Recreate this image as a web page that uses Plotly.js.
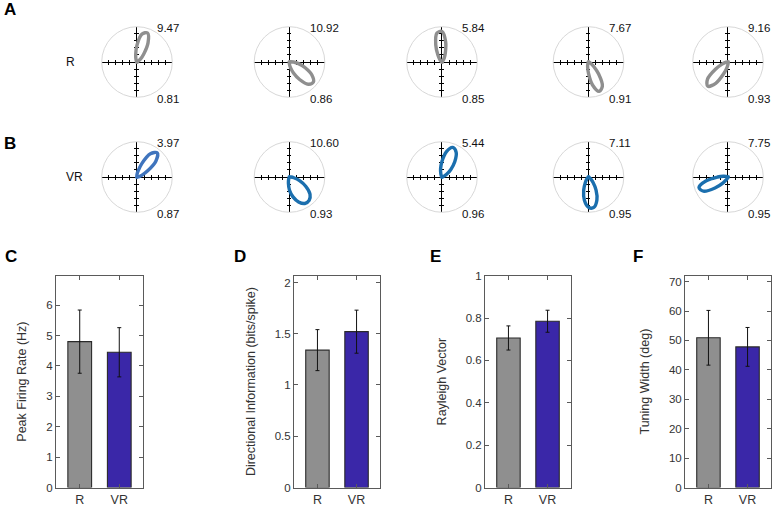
<!DOCTYPE html>
<html><head><meta charset="utf-8">
<script src="https://cdn.plot.ly/plotly-3.0.1.min.js"></script>
<style>html,body{margin:0;padding:0;background:#fff}#chart{width:774px;height:505px}</style>
</head><body><div id="chart"></div>
<script>
// ---------------- DATA ----------------
const directions = [0,10,20,30,40,50,60,70,80,90,100,110,120,130,140,150,160,170,180,190,200,210,220,230,240,250,260,270,280,290,300,310,320,330,340,350];
const rowLabels = ['R', 'VR'];
const peakR = [9.47, 10.92, 5.84, 7.67, 9.16];
const rayleighR = [0.81, 0.86, 0.85, 0.91, 0.93];
const peakVR = [3.97, 10.60, 5.44, 7.11, 7.75];
const rayleighVR = [0.87, 0.93, 0.96, 0.95, 0.95];
// normalised firing rate per direction (peak = 1)
const tuningR1 = [0.01,0.01,0.02,0.03,0.15,0.34,0.70,0.98,0.90,0.54,0.24,0.10,
                  0.04,0.02,0.01,0.01,0.01,0.01,0.01,0.01,0.01,0.01,0.01,0.01,
                  0.01,0.01,0.01,0.01,0.01,0.01,0.01,0.01,0.01,0.01,0.01,0.01];
const tuningR2 = [0.13,0.05,0.02,0.01,0.01,0.01,0.01,0.01,0.01,0.01,0.01,0.01,
                  0.01,0.01,0.01,0.01,0.01,0.01,0.01,0.01,0.01,0.01,0.01,0.01,
                  0.01,0.01,0.03,0.08,0.18,0.37,0.64,0.92,0.99,0.82,0.53,0.29];
const tuningR3 = [0.01,0.01,0.01,0.01,0.01,0.03,0.14,0.31,0.66,0.97,0.93,0.58,
                  0.26,0.11,0.04,0.02,0.01,0.01,0.01,0.01,0.01,0.01,0.01,0.01,
                  0.01,0.01,0.01,0.01,0.01,0.01,0.01,0.01,0.01,0.01,0.01,0.01];
const tuningR4 = [0.01,0.01,0.01,0.01,0.01,0.01,0.01,0.01,0.01,0.01,0.01,0.01,
                  0.01,0.01,0.01,0.01,0.01,0.01,0.01,0.01,0.01,0.01,0.01,0.01,
                  0.02,0.06,0.16,0.36,0.74,0.99,0.88,0.50,0.21,0.09,0.03,0.01];
const tuningR5 = [0.01,0.01,0.01,0.01,0.01,0.01,0.01,0.01,0.01,0.01,0.01,0.01,
                  0.01,0.01,0.01,0.01,0.01,0.01,0.02,0.08,0.20,0.46,0.85,1.00,
                  0.78,0.39,0.17,0.07,0.03,0.01,0.01,0.01,0.01,0.01,0.01,0.01];
const tuningVR1 = [0.01,0.07,0.17,0.39,0.78,1.00,0.85,0.46,0.19,0.08,0.03,0.01,
                   0.01,0.01,0.01,0.01,0.01,0.01,0.01,0.01,0.01,0.01,0.01,0.01,
                   0.01,0.01,0.01,0.01,0.01,0.01,0.01,0.01,0.01,0.01,0.01,0.01];
const tuningVR2 = [0.05,0.02,0.01,0.01,0.01,0.01,0.01,0.01,0.01,0.01,0.01,0.01,
                   0.01,0.01,0.01,0.01,0.01,0.01,0.01,0.01,0.01,0.01,0.01,0.01,
                   0.03,0.08,0.20,0.42,0.64,0.84,0.97,0.97,0.85,0.60,0.34,0.14];
const tuningVR3 = [0.01,0.02,0.06,0.16,0.36,0.63,0.90,1.00,0.82,0.50,0.26,0.11,
                   0.04,0.02,0.01,0.01,0.01,0.01,0.01,0.01,0.01,0.01,0.01,0.01,
                   0.01,0.01,0.01,0.01,0.01,0.01,0.01,0.01,0.01,0.01,0.01,0.01];
const tuningVR4 = [0.01,0.01,0.01,0.01,0.01,0.01,0.01,0.01,0.01,0.01,0.01,0.01,
                   0.01,0.01,0.01,0.01,0.01,0.01,0.01,0.01,0.01,0.01,0.03,0.08,
                   0.20,0.45,0.75,0.96,0.98,0.78,0.48,0.22,0.09,0.03,0.01,0.01];
const tuningVR5 = [0.01,0.01,0.01,0.01,0.01,0.01,0.01,0.01,0.01,0.01,0.01,0.01,
                   0.01,0.01,0.01,0.02,0.06,0.15,0.33,0.70,0.98,0.90,0.54,0.24,
                   0.09,0.04,0.02,0.01,0.01,0.01,0.01,0.01,0.01,0.01,0.01,0.01];

const groups = ['R', 'VR'];
const peakRate = [4.80, 4.45];
const peakRateErr = [1.04, 0.81];
const dirInfo = [1.34, 1.52];
const dirInfoErr = [0.20, 0.21];
const rayleighVec = [0.706, 0.785];
const rayleighVecErr = [0.057, 0.052];
const tuningWidth = [50.9, 47.8];
const tuningWidthErr = [9.3, 6.6];

// ---------------- LAYOUT / STYLE ----------------
const W = 774, H = 505;
const px = v => v / W, py = v => 1 - v / H;
const FONT = 'Arial, "Liberation Sans", sans-serif';
const polarCx = [137, 289.5, 442, 588.5, 728];
const polarCy = [62, 177];
const RAD = 35.3;
const curveColors = [['#8f8f8f','#8f8f8f','#8f8f8f','#8f8f8f','#8f8f8f'],
                     ['#3f74bd','#1b6fae','#1b6fae','#1b6fae','#1b6fae']];
const barColors = ['#8f8f8f', '#3a27a8'];

const rows = [
  {curves:[tuningR1,tuningR2,tuningR3,tuningR4,tuningR5], peak:peakR, rv:rayleighR},
  {curves:[tuningVR1,tuningVR2,tuningVR3,tuningVR4,tuningVR5], peak:peakVR, rv:rayleighVR}
];

const data = [];
const layout = {
  width: W, height: H,
  margin: {l:0, r:0, t:0, b:0},
  showlegend: false,
  paper_bgcolor: '#ffffff',
  plot_bgcolor: 'rgba(0,0,0,0)',
  font: {family: FONT, color: '#000'},
  annotations: []
};

let axCount = 0;
function newAx() { axCount++; return axCount === 1 ? '' : String(axCount); }

// ---------- bar panels ----------
const panels = [
  {letter:'C', lx:3,   x0:56,  x1:143, vals:peakRate,    errs:peakRateErr,    range:[0,6.97], ticks:[0,1,2,3,4,5,6], tt:['0','1','2','3','4','5','6'], title:'Peak Firing Rate (Hz)'},
  {letter:'D', lx:232, x0:294, x1:380, vals:dirInfo,     errs:dirInfoErr,     range:[0,2.066], ticks:[0,0.5,1,1.5,2], tt:['0','0.5','1','1.5','2'], title:'Directional Information (bits/spike)'},
  {letter:'E', lx:428, x0:485, x1:571, vals:rayleighVec, errs:rayleighVecErr, range:[0,1], ticks:[0,0.2,0.4,0.6,0.8,1], tt:['0','0.2','0.4','0.6','0.8','1'], title:'Rayleigh Vector'},
  {letter:'F', lx:631, x0:685, x1:771, vals:tuningWidth, errs:tuningWidthErr, range:[0,72], ticks:[0,10,20,30,40,50,60,70], tt:['0','10','20','30','40','50','60','70'], title:'Tuning Width (deg)'}
];
const barTop = 275.7, barBot = 487.5;
panels.forEach(p => {
  const id = newAx();
  data.push({
    type:'bar', x: groups, y: p.vals, xaxis:'x'+id, yaxis:'y'+id, width:0.6,
    marker:{color: barColors, line:{color:'#2a2a2a', width:1.1}},
    error_y:{type:'data', array:p.errs, visible:true, color:'#111', thickness:1, width:2},
    hoverinfo:'skip'
  });
  layout['xaxis'+id] = {
    domain:[px(p.x0), px(p.x1)], anchor:'y'+id, type:'category', range:[-0.6,1.6],
    showline:true, mirror:'ticks', linecolor:'#5a5a5a', linewidth:1,
    ticks:'inside', ticklen:4, tickcolor:'#5a5a5a', tickwidth:1,
    tickfont:{size:12.5, color:'#333', family:FONT}, showgrid:false, zeroline:false, fixedrange:true
  };
  layout['yaxis'+id] = {
    domain:[py(barBot), py(barTop)], anchor:'x'+id, range:p.range,
    tickmode:'array', tickvals:p.ticks, ticktext:p.tt,
    showline:true, mirror:'ticks', linecolor:'#5a5a5a', linewidth:1,
    ticks:'inside', ticklen:4, tickcolor:'#5a5a5a', tickwidth:1,
    tickfont:{size:11.5, color:'#333', family:FONT}, showgrid:false, zeroline:false, fixedrange:true,
    title:{text:p.title, standoff:16, font:{size:12.5, color:'#333', family:FONT}}
  };
  layout.annotations.push({text:'<b>'+p.letter+'</b>', xref:'paper', yref:'paper', x:px(p.lx), y:py(256.5),
    xanchor:'left', yanchor:'middle', showarrow:false, font:{size:17, color:'#000', family:FONT}});
});

// ---------- polar panels ----------
const tickPos = [-0.8,-0.6,-0.4,-0.2,0.2,0.4,0.6,0.8];
const crossAxis = {
  showline:true, linecolor:'#000', linewidth:1, ticks:'outside', ticklen:1.8, tickwidth:1, tickcolor:'#000',
  tickmode:'array', tickvals:tickPos, showticklabels:false, showgrid:false, zeroline:false, fixedrange:true,
  minor:{tickmode:'array', tickvals:tickPos, ticks:'inside', ticklen:1.8, tickwidth:1, tickcolor:'#000', showgrid:false},
  range:[-1,1]
};
let polarCount = 0;
function holder(id) {
  // empty trace so that the cross-hair subplot is created
  data.push({type:'scatter', x:[null], y:[null], mode:'lines', xaxis:'x'+id, yaxis:'y'+id, hoverinfo:'skip'});
}
rows.forEach((row, r) => {
  const cy = polarCy[r];
  row.curves.forEach((curve, c) => {
    const cx = polarCx[c];
    // cross-hair axes: horizontal
    const ha = newAx();
    layout['xaxis'+ha] = Object.assign({}, crossAxis, {domain:[px(cx-RAD), px(cx+RAD)], anchor:'y'+ha});
    layout['yaxis'+ha] = {domain:[py(cy), py(cy-RAD)], anchor:'x'+ha, range:[0,1], visible:false, fixedrange:true};
    holder(ha);
    // vertical
    const va = newAx();
    layout['xaxis'+va] = {domain:[px(cx), px(cx+RAD)], anchor:'y'+va, range:[0,1], visible:false, fixedrange:true};
    layout['yaxis'+va] = Object.assign({}, crossAxis, {domain:[py(cy+RAD), py(cy-RAD)], anchor:'x'+va});
    holder(va);

    polarCount++;
    const pid = polarCount === 1 ? 'polar' : 'polar' + polarCount;
    layout[pid] = {
      domain:{x:[px(cx-RAD), px(cx+RAD)], y:[py(cy+RAD), py(cy-RAD)]},
      bgcolor:'rgba(0,0,0,0)',
      radialaxis:{visible:false, range:[0,1.12]},
      angularaxis:{showline:true, linecolor:'#d8d8d8', linewidth:1, showgrid:false, ticks:'', showticklabels:false}
    };
    data.push({
      type:'scatterpolar', subplot:pid,
      r: curve.concat([curve[0]]), theta: directions.concat([directions[0]]),
      mode:'lines', line:{color:curveColors[r][c], width:3.4, shape:'spline'}, hoverinfo:'skip'
    });
    layout.annotations.push({text: row.peak[c].toFixed(2), xref:'paper', yref:'paper',
      x:px(cx+18), y:py(cy-34), xanchor:'left', yanchor:'middle', showarrow:false,
      font:{size:11.5, color:'#111', family:FONT}});
    layout.annotations.push({text: row.rv[c].toFixed(2), xref:'paper', yref:'paper',
      x:px(cx+18), y:py(cy+37), xanchor:'left', yanchor:'middle', showarrow:false,
      font:{size:11.5, color:'#111', family:FONT}});
  });
  layout.annotations.push({text: rowLabels[r], xref:'paper', yref:'paper', x:px(64), y:py(cy),
    xanchor:'left', yanchor:'middle', showarrow:false, font:{size:12, color:'#111', family:FONT}});
});
layout.annotations.push({text:'<b>A</b>', xref:'paper', yref:'paper', x:px(2), y:py(9),
  xanchor:'left', yanchor:'middle', showarrow:false, font:{size:17, color:'#000', family:FONT}});
layout.annotations.push({text:'<b>B</b>', xref:'paper', yref:'paper', x:px(2), y:py(143),
  xanchor:'left', yanchor:'middle', showarrow:false, font:{size:17, color:'#000', family:FONT}});

Plotly.newPlot('chart', data, layout, {staticPlot:true, displayModeBar:false});
</script>
</body></html>
